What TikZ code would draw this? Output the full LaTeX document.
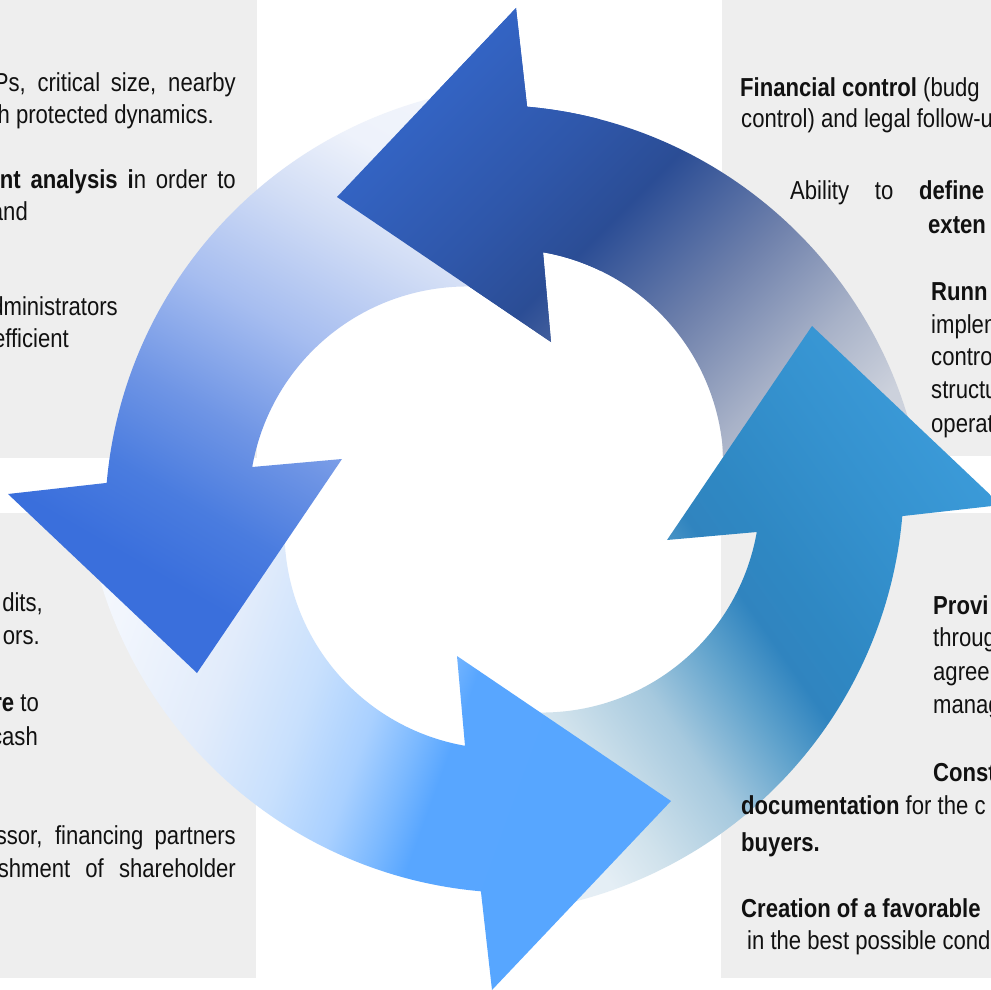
\documentclass[tikz,border=0pt]{standalone}
\usepackage{fontspec}
\setmainfont{Liberation Sans}[FakeStretch=0.85]

\definecolor{panelgray}{HTML}{EEEEEE}
\definecolor{inkgray}{HTML}{111111}

% colour ramps of the four arrows, tail side left, head side right
\pgfdeclarehorizontalshading{topfade}{100bp}{
  rgb(0bp)=(0.84,0.855,0.89);
  rgb(25bp)=(0.80,0.82,0.863);
  rgb(33bp)=(0.659,0.698,0.784);
  rgb(43bp)=(0.431,0.502,0.671);
  rgb(54bp)=(0.169,0.302,0.584);
  rgb(62bp)=(0.184,0.341,0.667);
  rgb(75bp)=(0.204,0.396,0.776);
  rgb(100bp)=(0.204,0.404,0.792)}
\pgfdeclarehorizontalshading{leftfade}{100bp}{
  rgb(0bp)=(0.973,0.98,0.996);
  rgb(27bp)=(0.933,0.949,0.984);
  rgb(35bp)=(0.816,0.863,0.961);
  rgb(45bp)=(0.651,0.741,0.941);
  rgb(55bp)=(0.435,0.584,0.898);
  rgb(63bp)=(0.29,0.486,0.875);
  rgb(70bp)=(0.227,0.435,0.863);
  rgb(100bp)=(0.227,0.431,0.859)}
\pgfdeclarehorizontalshading{bottomfade}{100bp}{
  rgb(0bp)=(1,1,1);
  rgb(25bp)=(0.949,0.965,0.992);
  rgb(35bp)=(0.886,0.925,0.984);
  rgb(43bp)=(0.784,0.878,0.992);
  rgb(49bp)=(0.663,0.816,1);
  rgb(53.5bp)=(0.478,0.722,1);
  rgb(56.5bp)=(0.345,0.651,1);
  rgb(100bp)=(0.333,0.647,1)}
\pgfdeclarehorizontalshading{rightfade}{100bp}{
  rgb(0bp)=(0.933,0.957,0.973);
  rgb(26bp)=(0.894,0.933,0.961);
  rgb(31bp)=(0.816,0.886,0.925);
  rgb(39bp)=(0.651,0.788,0.871);
  rgb(46bp)=(0.373,0.635,0.8);
  rgb(51bp)=(0.188,0.518,0.749);
  rgb(56bp)=(0.184,0.533,0.765);
  rgb(66bp)=(0.208,0.573,0.812);
  rgb(75bp)=(0.231,0.604,0.847);
  rgb(100bp)=(0.235,0.612,0.855)}

% one curved arrow of the cycle (the top one), head pointing left
\newcommand{\arrowshape}{(337,197) -- (516,8) -- (527.1,106.7)
  arc[start angle=-85,end angle=-8,radius=437] -- (716.1,523.4)
  arc[start angle=15,end angle=-80.1,radius=218] -- (551,342) -- cycle}

\begin{document}
\begin{tikzpicture}[x=1pt,y=-1pt,
  panel/.style={fill=panelgray},
  txt/.style={inner sep=0pt,text=inkgray,font=\fontsize{26}{32}\selectfont}]
\useasboundingbox (0,0) rectangle (991,990);
\clip (0,0) rectangle (991,990);
\fill[white] (0,0) rectangle (991,990);
% grey text panels
\fill[panel] (0,0) rectangle (257,458);
\fill[panel] (0,513) rectangle (256,978);
\fill[panel] (722,0) rectangle (991,456);
\fill[panel] (721,513) rectangle (991,978);
% the four arrows
\shade[shading=topfade,shading angle=135] \arrowshape;
\shade[shading=rightfade,shading angle=35,shift={(2,-8)},rotate around={-90:(505,502)}] \arrowshape;
\shade[shading=bottomfade,shading angle=-20,shift={(-2,-6)},rotate around={180:(505,502)}] \arrowshape;
\shade[shading=leftfade,shading angle=-120,shift={(-3,3)},rotate around={90:(505,502)}] \arrowshape;
% head of the top arrow once more, over the tail of the left one
\begin{scope}
\clip (250,0) rectangle (600,420);
\shade[shading=topfade,shading angle=135] \arrowshape;
\end{scope}

% top left
\node[txt,anchor=base east] (tl1) at (236,92) {\makebox[242pt][s]{Ps, critical size, nearby}};
\node[txt,anchor=base east] (tl2) at (214,123) {th protected dynamics.};
\node[txt,anchor=base east] (tl3) at (236,188) {\makebox[236pt][s]{\textbf{nt analysis i}n order to}};
\node[txt,anchor=base east] (tl4) at (28,220) {and};
\node[txt,anchor=base east] (tl5) at (118,315) {dministrators};
\node[txt,anchor=base east] (tl6) at (69,347) {efficient};
% top right
\node[txt,anchor=base west] (tr1) at (740,96) {\textbf{Financial control} (budg};
\node[txt,anchor=base west] (tr2) at (741,128) {control) and legal follow-u};
\node[txt,anchor=base west] (tr3) at (790,199) {\makebox[194pt][s]{Ability to \textbf{define}}};
\node[txt,anchor=base west] (tr4) at (928,233) {\textbf{exten}};
\node[txt,anchor=base west] (tr5) at (931,300) {\textbf{Runn}};
\node[txt,anchor=base west] (tr6) at (931,333) {implem};
\node[txt,anchor=base west] (tr7) at (931,365) {contro};
\node[txt,anchor=base west] (tr8) at (931,398) {structu};
\node[txt,anchor=base west] (tr9) at (931,432) {operat};
% bottom right
\node[txt,anchor=base west] (br1) at (933,614) {\textbf{Provi}};
\node[txt,anchor=base west] (br2) at (933,646) {throug};
\node[txt,anchor=base west] (br3) at (933,680) {agree};
\node[txt,anchor=base west] (br4) at (933,713) {manag};
\node[txt,anchor=base west] (br5) at (933,781) {\textbf{Const}};
\node[txt,anchor=base west] (br6) at (741,814) {\textbf{documentation} for the c};
\node[txt,anchor=base west] (br7) at (741,851) {\textbf{buyers.}};
\node[txt,anchor=base west] (br8) at (741,917) {\textbf{Creation of a favorable}};
\node[txt,anchor=base west] (br9) at (747,949) {in the best possible cond};
% bottom left
\node[txt,anchor=base east] (bl1) at (43,611) {dits,};
\node[txt,anchor=base east] (bl2) at (40,644) {ors.};
\node[txt,anchor=base east] (bl3) at (39,711) {\textbf{re} to};
\node[txt,anchor=base east] (bl4) at (38,745) {cash};
\node[txt,anchor=base east] (bl5) at (236,844) {\makebox[240pt][s]{ssor, financing partners}};
\node[txt,anchor=base east] (bl6) at (236,877) {\makebox[238pt][s]{shment of shareholder}};
\end{tikzpicture}
\end{document}
